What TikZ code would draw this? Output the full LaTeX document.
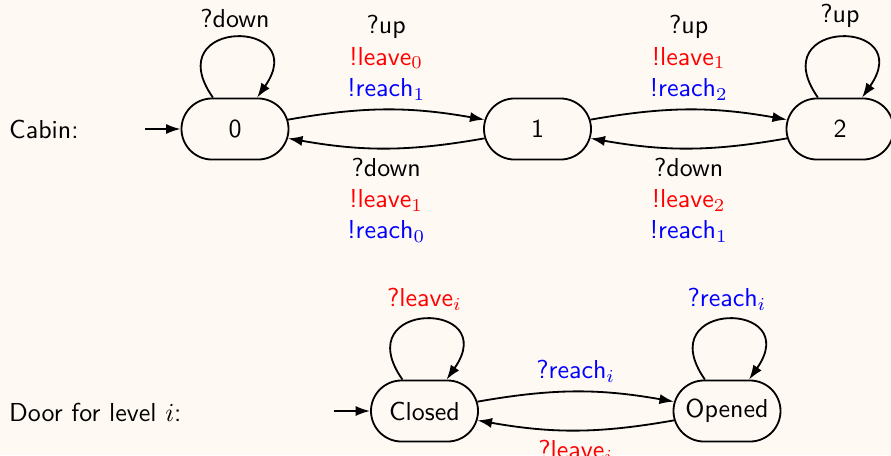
\documentclass[tikz,border=0pt]{standalone}
\usetikzlibrary{shapes.misc,arrows.meta}
\definecolor{paper}{RGB}{255,249,244}
\begin{document}
\begin{tikzpicture}[x=0.385pt,y=0.385pt,
  font=\sffamily,
  loc/.style={draw, rounded rectangle, minimum width=45.2pt, minimum height=23.5pt,
              line width=0.7pt, inner sep=2pt},
  trans/.style={line width=0.7pt, -{Latex[length=5.6pt,width=3.9pt]}},
  lbl/.style={align=center},
  selfloop/.style={out=125, in=55, looseness=1, min distance=37.6pt},
]
\useasboundingbox[fill=paper] (0,0) rectangle (891,-455);

% cabin automaton
\node[anchor=west] (cabin) at (0,-129) {Cabin:};
\node[loc] (n0) at (235,-129) {0};
\node[loc] (n1) at (537.5,-129) {1};
\node[loc] (n2) at (840,-129) {2};
\coordinate (in0) at (145,-129);

\draw[trans] (in0) -- (n0);
\draw[trans] ([xshift=-8.5pt]n0.north) to[selfloop] node[above] (l00) {?down} ([xshift=8.5pt]n0.north);
\draw[trans] ([xshift=-8.5pt]n2.north) to[selfloop] node[above] (l22) {?up} ([xshift=8.5pt]n2.north);
\draw[trans] (n0) to[bend left=10] node[above,lbl] (l01)
  {?up\\{\color{red}!leave$_0$}\\{\color{blue}!reach$_1$}} (n1);
\draw[trans] (n1) to[bend left=10] node[below,lbl] (l10)
  {?down\\{\color{red}!leave$_1$}\\{\color{blue}!reach$_0$}} (n0);
\draw[trans] (n1) to[bend left=10] node[above,lbl] (l12)
  {?up\\{\color{red}!leave$_1$}\\{\color{blue}!reach$_2$}} (n2);
\draw[trans] (n2) to[bend left=10] node[below,lbl] (l21)
  {?down\\{\color{red}!leave$_2$}\\{\color{blue}!reach$_1$}} (n1);

% door automaton
\node[anchor=west] (door) at (0,-412) {Door for level $i$:};
\node[loc] (closed) at (424.5,-411) {Closed};
\node[loc] (opened) at (727,-411) {Opened};
\coordinate (inC) at (334,-411);

\draw[trans] (inC) -- (closed);
\draw[trans] ([xshift=-8.5pt]closed.north) to[selfloop] node[above] (lcc) {\color{red}?leave$_i$} ([xshift=8.5pt]closed.north);
\draw[trans] ([xshift=-8.5pt]opened.north) to[selfloop] node[above] (loo) {\color{blue}?reach$_i$} ([xshift=8.5pt]opened.north);
\draw[trans] (closed) to[bend left=10] node[above] (lco) {\color{blue}?reach$_i$} (opened);
\draw[trans] (opened) to[bend left=10] node[below] (loc) {\color{red}?leave$_i$} (closed);
\end{tikzpicture}
\end{document}
